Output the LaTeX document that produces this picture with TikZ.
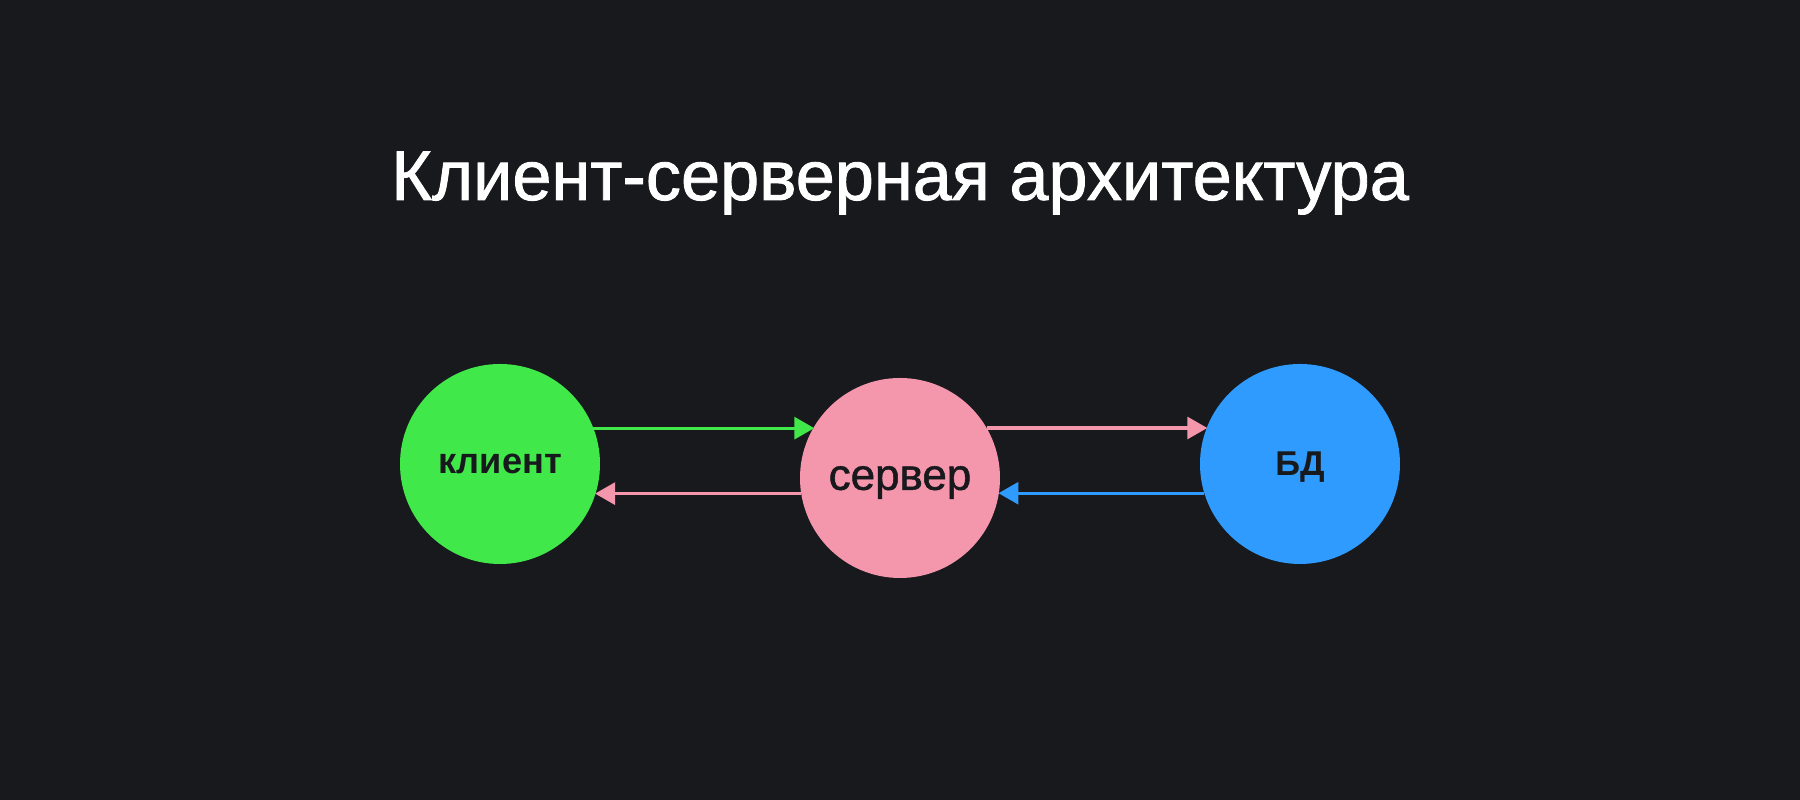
\documentclass[tikz,border=0pt]{standalone}
\usepackage{fontspec}
\setmainfont{Liberation Sans}
\newfontfamily\moyen[FakeBold=1.2]{Liberation Sans}
\usepackage{tikz}
\usetikzlibrary{arrows.meta}
\definecolor{fond}{RGB}{24,25,29}
\definecolor{vert}{RGB}{65,232,74}
\definecolor{rose}{RGB}{244,150,172}
\definecolor{bleu}{RGB}{47,155,255}
\def\largeur{18}
\def\hauteur{8}

\begin{document}
\begin{tikzpicture}[x=1cm, y=1cm, >={Triangle[length=2mm, width=2.2mm]},
	rond/.style={circle, minimum size=2cm, inner sep=0pt, outer sep=0pt, text depth=0pt, text=fond, font=\bfseries\fontsize{10.3}{13}\selectfont},
	fleche/.style={->, line width=0.9pt}]
	\fill[fond] (0,0) rectangle (\largeur,\hauteur);
	%\draw[step=1cm, line width=0.2mm, white!30!fond] (0,0) grid (\largeur,\hauteur);
	\node[color=white, anchor=base, font=\moyen\fontsize{20}{24}\selectfont] (titre) at (9,6.0){Клиент-серверная архитектура};
	\node[rond, fill=vert] (client) at (5,3.36){клиент};
	\node[rond, fill=rose, font=\moyen\fontsize{12.5}{14}\selectfont] (serveur) at (9,3.22){сервер};
	\node[rond, fill=bleu, font=\bfseries\fontsize{9.8}{12}\selectfont] (bd) at (13,3.36){БД};
	\draw[fleche, color=vert](client.21.72)--(client.21.72 -| serveur.149.34);
	\draw[fleche, color=rose](serveur.189.21)--(serveur.189.21 -| client.342.54);
	\draw[fleche, color=rose](serveur.30.66)--(serveur.30.66 -| bd.158.28);
	\draw[fleche, color=bleu](bd.197.46)--(bd.197.46 -| serveur.350.79);
\end{tikzpicture}
\end{document}
